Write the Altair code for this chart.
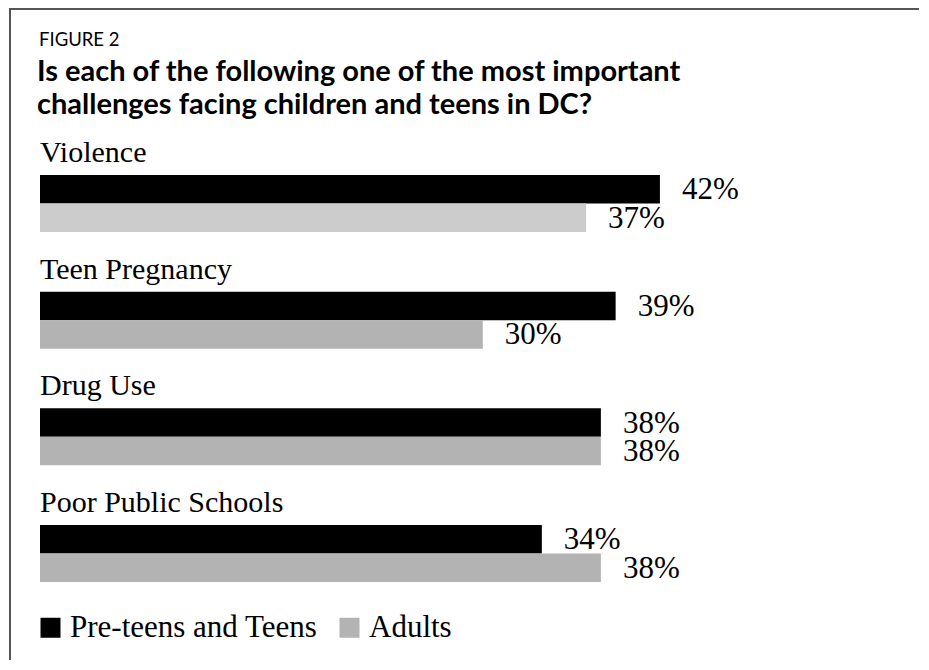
import altair as alt
import pandas as pd

categories = ["Violence", "Teen Pregnancy", "Drug Use", "Poor Public Schools"]
series = ["Pre-teens and Teens", "Adults"]
teens = [42, 39, 38, 34]
adults = [37, 30, 38, 38]
figure_label = "FIGURE 2"
title_lines = [
    "Is each of the following one of the most important",
    "challenges facing children and teens in DC?",
]

rows = []
for c, t, a in zip(categories, teens, adults):
    rows.append({"category": c, "series": series[0], "value": t, "label": f"{t}%"})
    rows.append({"category": c, "series": series[1], "value": a, "label": f"{a}%"})
df = pd.DataFrame(rows)
cat_df = pd.DataFrame({"category": categories})

SERIF = "Liberation Serif"
SANS = "Lato"

yscale = alt.Scale(paddingInner=0.5114, paddingOuter=0)
x_enc = alt.X("value:Q", axis=None, scale=alt.Scale(domain=[0, 50], nice=False, zero=True))
y_enc = alt.Y("category:N", sort=categories, axis=None, scale=yscale)
yoff = alt.YOffset("series:N", sort=series, scale=alt.Scale(paddingInner=0, paddingOuter=0))

color = alt.condition(
    "datum.category === 'Violence' && datum.series === 'Adults'",
    alt.value("#cccccc"),
    alt.Color(
        "series:N",
        sort=series,
        scale=alt.Scale(domain=series, range=["#000000", "#b3b3b3"]),
        legend=alt.Legend(
            title=None,
            orient="none",
            legendX=-5,
            legendY=437,
            direction="horizontal",
            symbolType="square",
            symbolSize=400,
            symbolStrokeWidth=0,
            symbolOpacity=1,
            labelFont=SERIF,
            labelFontSize=31,
            labelColor="black",
            labelOffset=4,
            labelLimit=500,
            columnPadding=16,
        ),
    ),
)

bars = alt.Chart(df).mark_bar().encode(x=x_enc, y=y_enc, yOffset=yoff, color=color)

values = alt.Chart(df).mark_text(
    align="left", baseline="middle", dx=22, dy=1, font=SERIF, fontSize=31, color="black"
).encode(x=x_enc, y=y_enc, yOffset=yoff, text="label:N")

cat_labels = alt.Chart(cat_df).mark_text(
    align="left", baseline="alphabetic", dy=-13, font=SERIF, fontSize=30, color="black"
).encode(
    x=alt.datum(0),
    y=alt.Y("category:N", sort=categories, axis=None, scale=yscale, bandPosition=0),
    text="category:N",
)

one = alt.Data(values=[{}])
fig_text = alt.Chart(one).mark_text(
    align="left", baseline="alphabetic", font=SANS, fontSize=18.5, color="black"
).encode(x=alt.value(-1), y=alt.value(-129), text=alt.value(figure_label))
title1 = alt.Chart(one).mark_text(
    align="left", baseline="alphabetic", font=SANS, fontSize=29, fontWeight="bold", color="black"
).encode(x=alt.value(-3), y=alt.value(-94), text=alt.value(title_lines[0]))
title2 = alt.Chart(one).mark_text(
    align="left", baseline="alphabetic", font=SANS, fontSize=29, fontWeight="bold", color="black"
).encode(x=alt.value(-3), y=alt.value(-61), text=alt.value(title_lines[1]))

frame_left = alt.Chart(one).mark_rule(color="#555555", strokeWidth=2).encode(
    x=alt.value(-30), y=alt.value(-166), y2=alt.value(700)
)
frame_top = alt.Chart(one).mark_rule(color="#555555", strokeWidth=2).encode(
    x=alt.value(-31), x2=alt.value(1000), y=alt.value(-166)
)

chart = alt.layer(
    bars, values, cat_labels, fig_text, title1, title2, frame_left, frame_top
).properties(
    width=738,
    height=407,
    padding={"left": 32, "top": 167, "right": 141, "bottom": 78},
    autosize=alt.AutoSizeParams(type="none"),
).configure_view(stroke=None)

chart.save("out.html", embed_options={"renderer": "svg", "actions": False})
